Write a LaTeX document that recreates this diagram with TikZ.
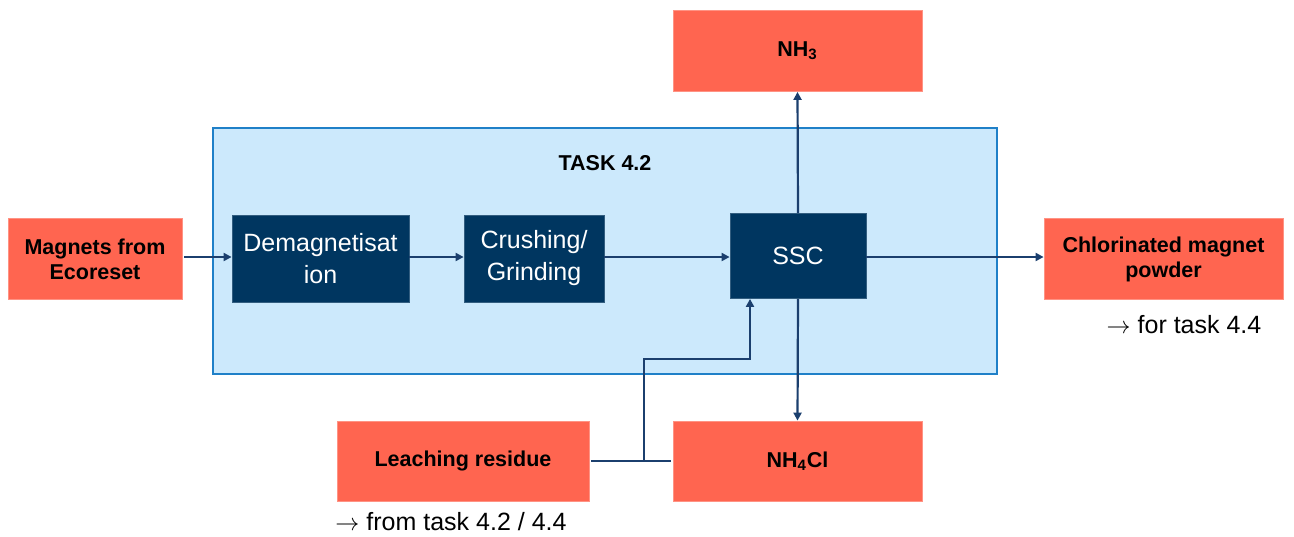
\documentclass[tikz,border=0pt]{standalone}
\usepackage{fontspec}
\setmainfont{Liberation Sans}
\usetikzlibrary{arrows.meta}
\definecolor{redbox}{HTML}{FF6550}
\definecolor{darkbox}{HTML}{003660}
\definecolor{lightblue}{HTML}{CCE9FC}
\definecolor{blueborder}{HTML}{1F80C8}
\definecolor{linec}{HTML}{1B3F6E}
\tikzset{
  redn/.style={fill=redbox, draw=redbox!70!white, line width=0.4pt, inner sep=0pt, align=center,
     font=\fontsize{10.75}{12.5}\selectfont\bfseries, text=black},
  darkn/.style={fill=darkbox, draw=darkbox!80!white, line width=0.4pt, inner sep=0pt, align=center,
     font=\fontsize{12.5}{16}\selectfont, text=white},
  conn/.style={draw=linec, line width=1.1pt},
  arr/.style={conn, -{Triangle[length=4pt,width=4pt]}},
}
\begin{document}
\begin{tikzpicture}[x=0.5pt,y=-0.5pt]
\useasboundingbox (0,0) rectangle (1294,536);
% big task box
\node[fill=lightblue, draw=blueborder, line width=1pt, minimum width=392pt, minimum height=123pt, inner sep=0pt] (task) at (605,251) {};
\node[font=\fontsize{10.75}{12.5}\selectfont\bfseries] (tasklbl) at (605,163) {TASK 4.2};
% nodes
\node[redn, minimum width=87pt, minimum height=40.5pt] (mag) at (95,259) {Magnets from\\Ecoreset};
\node[darkn, minimum width=88.5pt, minimum height=43.5pt] (dem) at (320.5,258.5) {Demagnetisat\\ion};
\node[darkn, minimum width=70pt, minimum height=43.5pt] (cru) at (534,258.5) {Crushing/\\Grinding};
\node[darkn, minimum width=68pt, minimum height=42.5pt] (ssc) at (798,256) {SSC};
\node[redn, minimum width=119.5pt, minimum height=40.5pt] (chl) at (1163.5,259) {Chlorinated magnet\\powder};
\node[redn, minimum width=124.5pt, minimum height=40.5pt] (nh3) at (797.5,51) {NH\textsubscript{3}};
\node[redn, minimum width=124.5pt, minimum height=40pt] (nh4) at (797.5,461) {NH\textsubscript{4}Cl};
\node[redn, minimum width=126pt, minimum height=40pt] (lea) at (463,461) {Leaching residue};
\node[font=\fontsize{12.5}{15}\selectfont] (fortask) at (1184,325) {$\rightarrow$ for task 4.4};
\node[font=\fontsize{12.5}{15}\selectfont] (fromtask) at (451,522) {$\rightarrow$ from task 4.2 / 4.4};
% connectors
\draw[arr] ([xshift=1pt]mag.east |- 0,257) -- (dem.west |- 0,257);
\draw[arr] (dem.east |- 0,257) -- (cru.west |- 0,257);
\draw[arr] (cru.east |- 0,257) -- (ssc.west |- 0,257);
\draw[arr] (ssc.east |- 0,257) -- (chl.west |- 0,257);
\draw[arr] (ssc.north) -- (nh3.south);
\draw[arr] (ssc.south) -- (nh4.north);
\coordinate (j) at (644,461);
\coordinate (k) at (750,359);
\draw[conn] ([xshift=1pt]lea.east |- j) -- ([xshift=-1pt]nh4.west |- j);
\draw[arr] (j) |- (k) -- (k |- ssc.south);
\end{tikzpicture}
\end{document}
